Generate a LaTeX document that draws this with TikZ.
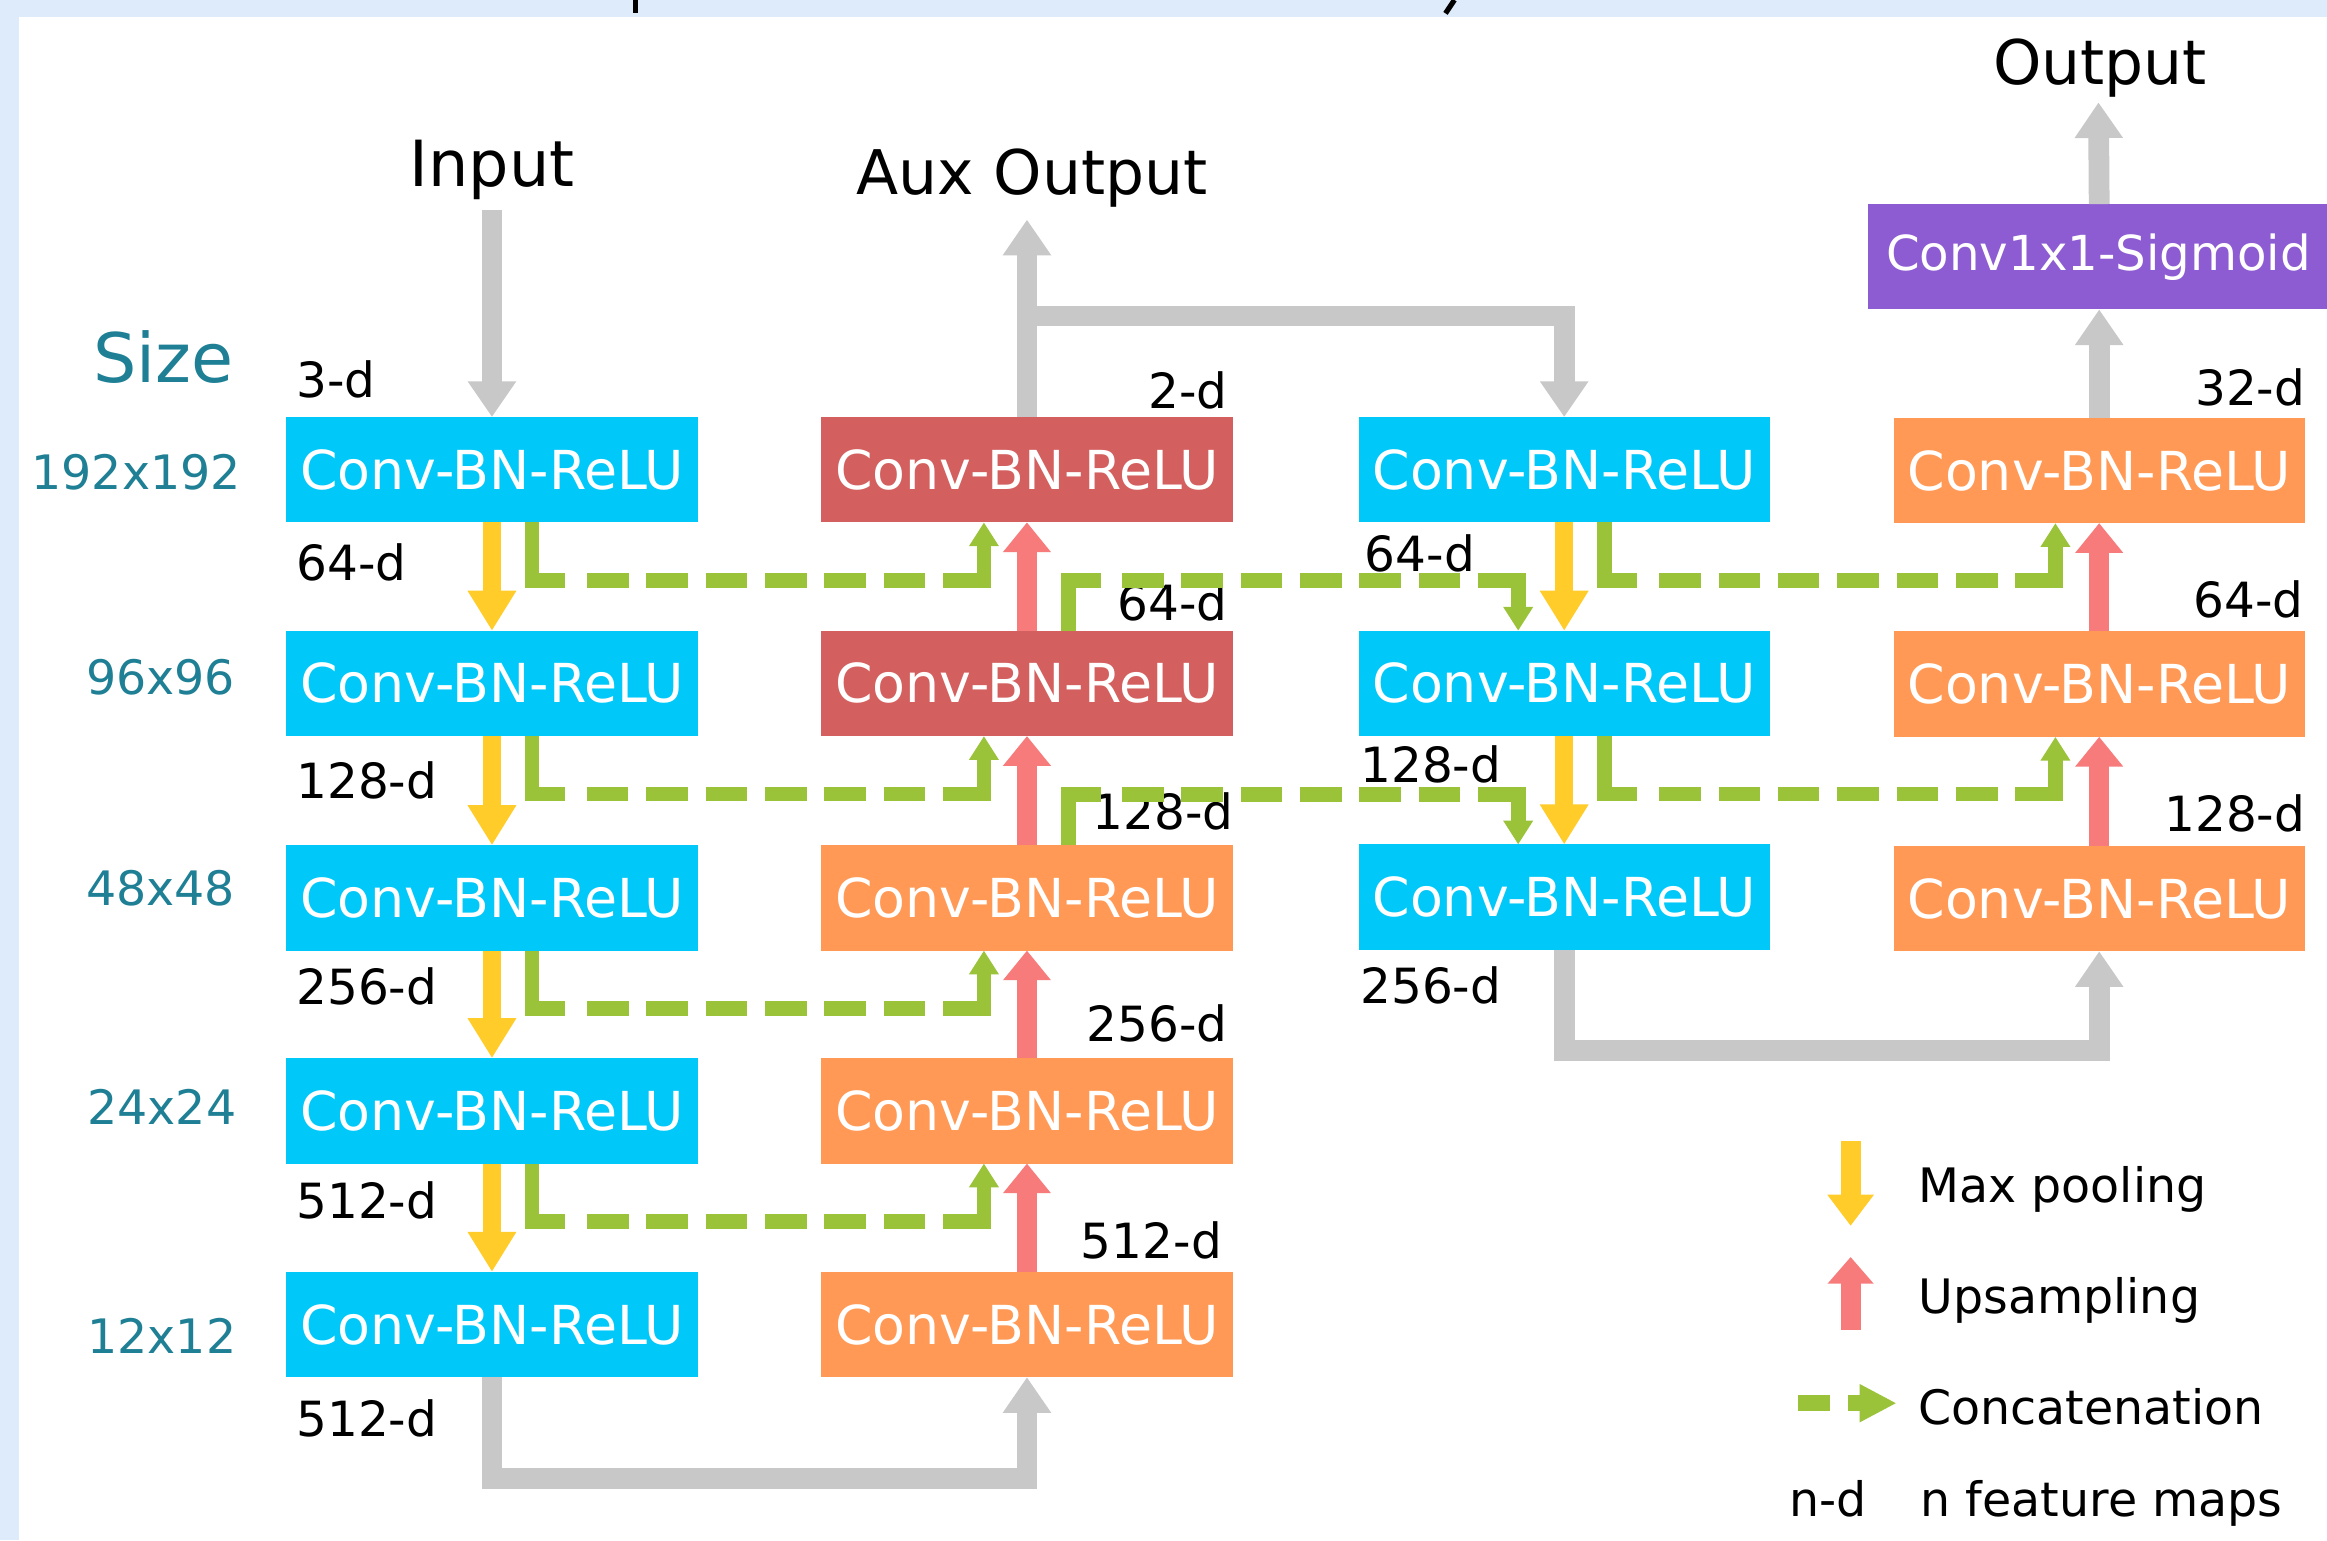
\documentclass[tikz,border=0pt]{standalone}
\usepackage{fontspec}
\setmainfont{DejaVu Sans}
\usetikzlibrary{arrows.meta,calc}
\definecolor{bgblue}{HTML}{DDEBFB}
\definecolor{encblue}{HTML}{00C8F8}
\definecolor{decred}{HTML}{D35F5F}
\definecolor{decorange}{HTML}{FF9955}
\definecolor{outpurple}{HTML}{8D5BD2}
\definecolor{poolyellow}{HTML}{FFCC2A}
\definecolor{uppink}{HTML}{F77B7B}
\definecolor{concatgreen}{HTML}{9BC33A}
\definecolor{flowgray}{HTML}{C8C8C8}
\definecolor{sizeteal}{HTML}{1E7F95}
\begin{document}
\begin{tikzpicture}[x=0.1mm,y=-0.1mm,
  blk/.style={minimum width=27.7mm, minimum height=7.1mm, inner sep=0pt, outer sep=0pt, text=white, font=\fontsize{10.3pt}{11pt}\selectfont},
  enc/.style={blk, fill=encblue},
  decr/.style={blk, fill=decred},
  deco/.style={blk, fill=decorange},
  dim/.style={inner sep=0pt, font=\fontsize{9.3pt}{11pt}\selectfont},
  sizelbl/.style={inner sep=0pt, text=sizeteal, font=\fontsize{9.1pt}{11pt}\selectfont, anchor=base east},
  ttl/.style={inner sep=0pt, font=\fontsize{11.8pt}{13pt}\selectfont, anchor=base},
  legtext/.style={inner sep=0pt, font=\fontsize{9.1pt}{11pt}\selectfont, anchor=base west},
  flow/.style={draw=flowgray, line width=1.4mm, line join=miter, -{Triangle[width=3.1mm,length=2.4mm]}},
  pool/.style={draw=poolyellow, line width=1.2mm, -{Triangle[width=3.1mm,length=2.7mm]}},
  upsmp/.style={draw=uppink, line width=1.35mm, -{Triangle[width=3.1mm,length=2.0mm]}},
  concat/.style={draw=concatgreen, line width=1mm, line join=miter, -{Triangle[width=1.9mm,length=1.6mm]}},
  concatA/.style={concat, dash pattern=on 6.1mm off 1.5mm on 2.8mm off 1.2mm on 2.8mm off 1.2mm on 2.8mm off 1.2mm on 2.8mm off 1.2mm on 2.8mm off 1.2mm on 2.8mm off 1.2mm on 20mm off 1mm},
  concatB/.style={concat, dash pattern=on 5.6mm off 1.4mm on 2.8mm off 1.2mm on 2.8mm off 1.2mm on 2.8mm off 1.2mm on 2.8mm off 1.2mm on 2.8mm off 1.2mm on 2.8mm off 1.2mm on 20mm off 1mm}
]
\useasboundingbox (0,0) rectangle (1568,1038);
\fill[bgblue] (0,0) rectangle (1568,1038);
\fill[white] (13,11.5) rectangle (1568,1038);
\draw[black, line width=0.35mm] (428,0) -- (428,9);
\draw[black, line width=0.35mm] (980,0) -- (974,9);

% encoder
\node[enc] (e1) at (331.5,316.5) {Conv-BN-ReLU};
\node[enc] (e2) at (331.5,460.5) {Conv-BN-ReLU};
\node[enc] (e3) at (331.5,605) {Conv-BN-ReLU};
\node[enc] (e4) at (331.5,748.5) {Conv-BN-ReLU};
\node[enc] (e5) at (331.5,892.5) {Conv-BN-ReLU};
% aux decoder
\node[decr] (d1) at (692,316.5) {Conv-BN-ReLU};
\node[decr] (d2) at (692,460.5) {Conv-BN-ReLU};
\node[deco] (d3) at (692,605) {Conv-BN-ReLU};
\node[deco] (d4) at (692,748.5) {Conv-BN-ReLU};
\node[deco] (d5) at (692,892.5) {Conv-BN-ReLU};
% second encoder
\node[enc] (c1) at (1054,316.5) {Conv-BN-ReLU};
\node[enc] (c2) at (1054,460.5) {Conv-BN-ReLU};
\node[enc] (c3) at (1054,604.5) {Conv-BN-ReLU};
% second decoder
\node[deco] (o1) at (1414.5,317) {Conv-BN-ReLU};
\node[deco] (o2) at (1414.5,461) {Conv-BN-ReLU};
\node[deco] (o3) at (1414.5,605.5) {Conv-BN-ReLU};
\node[blk, fill=outpurple, minimum width=31mm, font=\fontsize{9.25pt}{11pt}\selectfont] (sig) at (1414,173) {Conv1x1-Sigmoid};

% titles
\node[ttl, font=\fontsize{12.2pt}{13pt}\selectfont] (in) at (331.5,126) {Input};
\node[ttl] (aux) at (695.5,131) {Aux Output};
\node[ttl] (out) at (1415,57) {Output};
\node[inner sep=0pt, text=sizeteal, font=\fontsize{13.1pt}{14pt}\selectfont, anchor=base east] (size) at (158,258) {Size};
\node[sizelbl] (s1) at (163,330) {192x192};
\node[sizelbl] (s2) at (159,468) {96x96};
\node[sizelbl] (s3) at (159,610) {48x48};
\node[sizelbl] (s4) at (160,758) {24x24};
\node[sizelbl] (s5) at (160,912) {12x12};

% dims
\node[dim, anchor=base west] (l1) at (199,268) {3-d};
\node[dim, anchor=base west] (l2) at (199,391) {64-d};
\node[dim, anchor=base west] (l3) at (199,538) {128-d};
\node[dim, anchor=base west] (l4) at (199,677) {256-d};
\node[dim, anchor=base west] (l5) at (199,821) {512-d};
\node[dim, anchor=base west] (l6) at (199,968) {512-d};
\node[dim, anchor=base east] (m1) at (828,275) {2-d};
\node[dim, anchor=base east] (m2) at (828,418) {64-d};
\node[dim, anchor=base east] (m3) at (832,559) {128-d};
\node[dim, anchor=base east] (m4) at (828,702) {256-d};
\node[dim, anchor=base east] (m5) at (824,848) {512-d};
\node[dim, anchor=base west] (n1) at (919,385) {64-d};
\node[dim, anchor=base west] (n2) at (916,527) {128-d};
\node[dim, anchor=base west] (n3) at (916,676) {256-d};
\node[dim, anchor=base east] (q1) at (1554,273) {32-d};
\node[dim, anchor=base east] (q2) at (1553,416) {64-d};
\node[dim, anchor=base east] (q3) at (1554,560) {128-d};

% gray flows
\coordinate (auxtip) at (692,148);
\coordinate (auxbranch) at (692,213);
\coordinate (outtip) at (1414,69);
\draw[flow] ($(in.south)+(0,6)$) -- (e1.north);
\draw[flow] (d1.north) -- (auxtip);
\draw[flow] (auxbranch) -| (c1.north);
\draw[flow] (e5.south) -- ++(0,68) -| (d5.south);
\draw[flow] (c3.south) -- ++(0,68) -| (o3.south);
\draw[flow] (o1.north) -- (o1.north |- sig.south);
\draw[flow] (o1.north |- sig.north) -- (outtip);

% max pooling
\draw[pool] (e1.south) -- (e2.north);
\draw[pool] (e2.south) -- (e3.north);
\draw[pool] (e3.south) -- (e4.north);
\draw[pool] (e4.south) -- (e5.north);
\draw[pool] (c1.south) -- (c2.north);
\draw[pool] (c2.south) -- (c3.north);

% upsampling
\draw[upsmp] (d2.north) -- (d1.south);
\draw[upsmp] (d3.north) -- (d2.south);
\draw[upsmp] (d4.north) -- (d3.south);
\draw[upsmp] (d5.north) -- (d4.south);
\draw[upsmp] (o2.north) -- (o1.south);
\draw[upsmp] (o3.north) -- (o2.south);

% concatenation
\draw[concatA] ($(e1.south)+(27,0)$) -- ++(0,39) -| ($(d1.south)+(-29,0)$);
\draw[concatA] ($(e2.south)+(27,0)$) -- ++(0,39) -| ($(d2.south)+(-29,0)$);
\draw[concatA] ($(e3.south)+(27,0)$) -- ++(0,39) -| ($(d3.south)+(-29,0)$);
\draw[concatA] ($(e4.south)+(27,0)$) -- ++(0,39) -| ($(d4.south)+(-29,0)$);
\draw[concatA] ($(c1.south)+(27,0)$) -- ++(0,39) -| ($(o1.south)+(-29.5,0)$);
\draw[concatA] ($(c2.south)+(27,0)$) -- ++(0,39) -| ($(o2.south)+(-29.5,0)$);
\draw[concatB] ($(d2.north)+(28,0)$) -- ++(0,-34) -| ($(c2.north)+(-31,0)$);
\draw[concatB] ($(d3.north)+(28,0)$) -- ++(0,-34) -| ($(c3.north)+(-31,0)$);

% legend
\node[legtext] (lg1) at (1292,810) {Max pooling};
\node[legtext] (lg2) at (1292,885) {Upsampling};
\node[legtext] (lg3) at (1292,960) {Concatenation};
\node[legtext] (lg4) at (1293.5,1022) {n feature maps};
\node[dim, anchor=base west, font=\fontsize{9.1pt}{11pt}\selectfont] (lg5) at (1205,1022) {n-d};
\coordinate (lp1) at (1247,769);
\coordinate (lp2) at (1247,826);
\coordinate (lu1) at (1247,896);
\coordinate (lu2) at (1247,847);
\coordinate (lc1) at (1211.5,945.5);
\coordinate (lc2) at (1233,945.5);
\coordinate (lc3) at (1245,945.5);
\coordinate (lc4) at (1278,945.5);
\draw[pool, line width=1.35mm, -{Triangle[width=3mm,length=2.1mm]}] (lp1) -- (lp2);
\draw[upsmp, -{Triangle[width=3mm,length=1.8mm]}] (lu1) -- (lu2);
\draw[draw=concatgreen, line width=1.1mm] (lc1) -- (lc2);
\draw[draw=concatgreen, line width=1.1mm, -{Triangle[width=2.4mm,length=2.5mm]}] (lc3) -- (lc4);
\end{tikzpicture}
\end{document}
